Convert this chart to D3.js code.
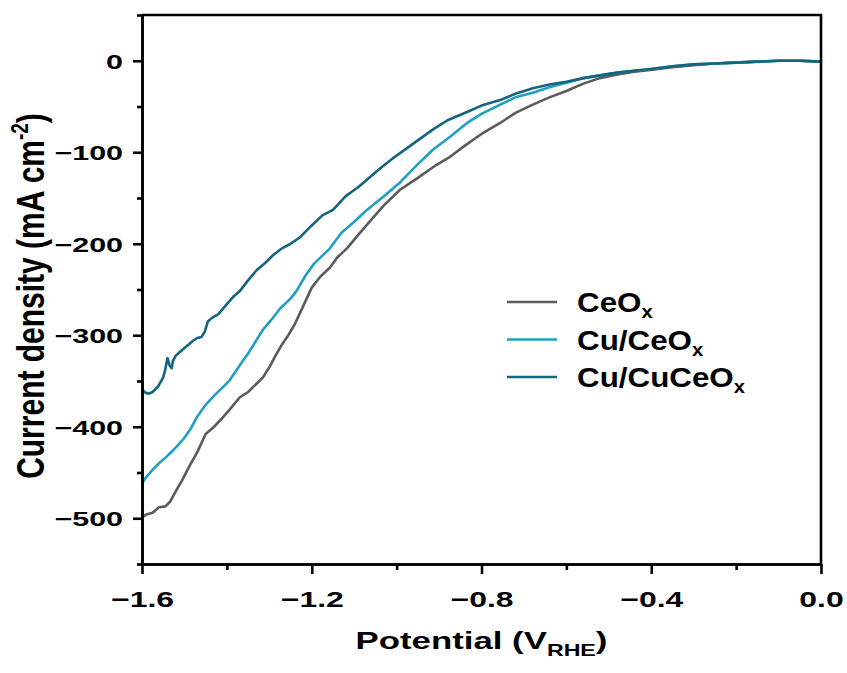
<!DOCTYPE html>
<html>
<head>
<meta charset="utf-8">
<script src="https://cdn.jsdelivr.net/npm/d3@7"></script>
<style>
  html, body { margin: 0; padding: 0; background: #fff; }
  svg { display: block; font-family: "Liberation Sans", Arial, sans-serif; font-weight: bold; }
</style>
</head>
<body>
<svg id="chart" width="847" height="673"></svg>
<script>
// LSV curves, potential (V vs RHE) and current density (mA cm-2)
const ceoxV = [-1.600,-1.590,-1.575,-1.560,-1.545,-1.534,-1.520,-1.505,-1.487,-1.470,-1.450,-1.430,-1.410,-1.393,-1.370,-1.350,-1.330,-1.315,-1.300,-1.285,-1.270,-1.258,-1.240,-1.221,-1.200,-1.180,-1.157,-1.140,-1.117,-1.090,-1.060,-1.030,-0.992,-0.950,-0.910,-0.874,-0.840,-0.800,-0.756,-0.720,-0.679,-0.640,-0.600,-0.560,-0.521,-0.480,-0.440,-0.403,-0.350,-0.300,-0.250,-0.207,-0.150,-0.100,-0.050,0.000];
const ceoxJ = [-499,-496,-494,-488,-487,-482,-470,-458,-442,-428,-408,-400,-390,-381,-368,-362,-353,-346,-335,-322,-310,-302,-288,-269,-248,-236,-226,-215,-205,-190,-174,-158,-141,-128,-115,-105,-93,-80,-68,-57,-48,-40,-33,-25,-19,-15,-12,-10,-7,-5,-3,-2,-1,0,0,-1];

const cuCeoxV = [-1.600,-1.590,-1.575,-1.560,-1.545,-1.534,-1.515,-1.500,-1.485,-1.470,-1.450,-1.430,-1.410,-1.393,-1.370,-1.350,-1.330,-1.315,-1.295,-1.275,-1.250,-1.235,-1.215,-1.195,-1.175,-1.157,-1.130,-1.100,-1.070,-1.030,-0.992,-0.950,-0.914,-0.874,-0.834,-0.800,-0.756,-0.720,-0.679,-0.640,-0.600,-0.560,-0.520,-0.480,-0.440,-0.400,-0.350,-0.300,-0.250,-0.200,-0.150,-0.100,-0.050,0.000];
const cuCeoxJ = [-462,-455,-447,-440,-434,-429,-420,-412,-402,-389,-376,-366,-357,-349,-333,-320,-305,-294,-283,-271,-260,-251,-235,-222,-213,-205,-188,-176,-163,-148,-133,-113,-97,-83,-68,-58,-48,-40,-35,-29,-24,-19,-16,-13,-11,-9,-6,-4,-3,-2,-1,0,0,-1];

const cuCuCeoxV = [-1.600,-1.595,-1.585,-1.575,-1.562,-1.550,-1.545,-1.540,-1.535,-1.530,-1.527,-1.520,-1.510,-1.500,-1.490,-1.480,-1.470,-1.460,-1.452,-1.445,-1.435,-1.420,-1.400,-1.385,-1.370,-1.350,-1.330,-1.310,-1.290,-1.270,-1.250,-1.228,-1.200,-1.175,-1.150,-1.120,-1.090,-1.070,-1.040,-1.010,-0.992,-0.950,-0.914,-0.880,-0.834,-0.800,-0.756,-0.720,-0.679,-0.640,-0.600,-0.560,-0.520,-0.480,-0.440,-0.400,-0.350,-0.300,-0.250,-0.200,-0.150,-0.100,-0.050,0.000];
const cuCuCeoxJ = [-358,-362,-364,-362,-356,-346,-337,-325,-333,-336,-328,-322,-318,-314,-310,-306,-303,-302,-296,-285,-281,-277,-266,-258,-252,-240,-229,-221,-212,-205,-200,-193,-180,-169,-163,-148,-138,-130,-118,-107,-101,-87,-75,-65,-56,-49,-43,-36,-30,-26,-23,-19,-16,-13,-11,-9,-6,-4,-3,-2,-1,0,0,-1];

const seriesNames = ["CeO", "Cu/CeO", "Cu/CuCeO"];
const seriesColors = ["#5b5b5b", "#1f9fc2", "#16657f"];

const xMajor = [-1.6, -1.2, -0.8, -0.4, 0.0];
const xMinor = [-1.4, -1.0, -0.6, -0.2];
const yMajor = [0, -100, -200, -300, -400, -500];
const yMinor = [50, -50, -150, -250, -350, -450, -550];

const svg = d3.select("#chart");
const plotLeft = 142, plotRight = 821, plotTop = 15, plotBottom = 564;
const stretch = 1.45; // the reference text is drawn wide

const x = d3.scaleLinear().domain([-1.6, 0]).range([plotLeft, plotRight]);
const y = d3.scaleLinear().domain([-550, 50]).range([plotBottom, plotTop]);

// curves
const series = [
  d3.zip(ceoxV, ceoxJ),
  d3.zip(cuCeoxV, cuCeoxJ),
  d3.zip(cuCuCeoxV, cuCuCeoxJ)
];
const line = d3.line().x(d => x(d[0])).y(d => y(d[1]));

svg.append("g").selectAll("path")
  .data(series)
  .join("path")
    .attr("d", line)
    .attr("fill", "none")
    .attr("stroke", (d, i) => seriesColors[i])
    .attr("stroke-width", 2.6)
    .attr("stroke-linejoin", "round");

// axes
function styleAxis(g){
  g.select(".domain").attr("stroke", "#000").attr("stroke-width", 2.6);
  g.selectAll(".tick line").attr("stroke", "#000").attr("stroke-width", 2.6);
}

svg.append("g")
  .attr("transform", `translate(${plotLeft},0)`)
  .call(d3.axisLeft(y).tickValues(yMinor).tickSize(5).tickFormat("").tickSizeOuter(0))
  .call(styleAxis);

const yAxis = svg.append("g")
  .attr("transform", `translate(${plotLeft},0)`)
  .call(d3.axisLeft(y).tickValues(yMajor).tickSize(9).tickFormat(d3.format("d")).tickSizeOuter(0))
  .call(styleAxis);
yAxis.selectAll(".tick text")
  .attr("x", 0).attr("dy", "0.36em")
  .attr("transform", `translate(-19,0) scale(${stretch},1)`)
  .attr("font-size", 21).attr("font-family", null).attr("fill", "#000");

svg.append("g")
  .attr("transform", `translate(0,${plotBottom})`)
  .call(d3.axisBottom(x).tickValues(xMinor).tickSize(6).tickFormat("").tickSizeOuter(0))
  .call(styleAxis);

const xAxis = svg.append("g")
  .attr("transform", `translate(0,${plotBottom})`)
  .call(d3.axisBottom(x).tickValues(xMajor).tickSize(10).tickFormat(d3.format(".1f")).tickSizeOuter(0))
  .call(styleAxis);
xAxis.selectAll(".tick text")
  .attr("y", 0).attr("dy", null)
  .attr("transform", `translate(0,43) scale(${stretch},1)`)
  .attr("font-size", 22).attr("font-family", null).attr("fill", "#000");

// top and right frame
svg.append("path")
  .attr("d", `M${x(-1.6)},${y(50)}H${x(0)}V${y(-550)}`)
  .attr("fill", "none").attr("stroke", "#000").attr("stroke-width", 2.6);

// axis titles
const xTitle = svg.append("text")
  .attr("transform", `translate(${(plotLeft + plotRight) / 2},649) scale(${stretch},1)`)
  .attr("text-anchor", "middle").attr("font-size", 24);
xTitle.append("tspan").text("Potential (V");
xTitle.append("tspan").attr("font-size", 16).attr("dy", 7).text("RHE");
xTitle.append("tspan").attr("dy", -7).text(")");

const yTitle = svg.append("text")
  .attr("transform", `translate(44,296) rotate(-90) scale(1,1.3)`)
  .attr("text-anchor", "middle").attr("font-size", 30);
yTitle.append("tspan").text("Current density (mA cm");
yTitle.append("tspan").attr("font-size", 19).attr("dy", -12).text("-2");
yTitle.append("tspan").attr("dy", 12).text(")");

// legend
const legend = svg.append("g").attr("transform", "translate(507,302)");
const items = legend.selectAll("g")
  .data(seriesNames)
  .join("g")
    .attr("transform", (d, i) => `translate(0,${i * 37.5})`);
items.append("line")
  .attr("x1", 0).attr("x2", 50)
  .attr("stroke", (d, i) => seriesColors[i])
  .attr("stroke-width", 2.6);
const labels = items.append("text")
  .attr("transform", "translate(70,10) scale(1.12,1)")
  .attr("font-size", 28);
labels.append("tspan").text(d => d);
labels.append("tspan").attr("font-size", 18).attr("dy", 6).text("x");
</script>
</body>
</html>
